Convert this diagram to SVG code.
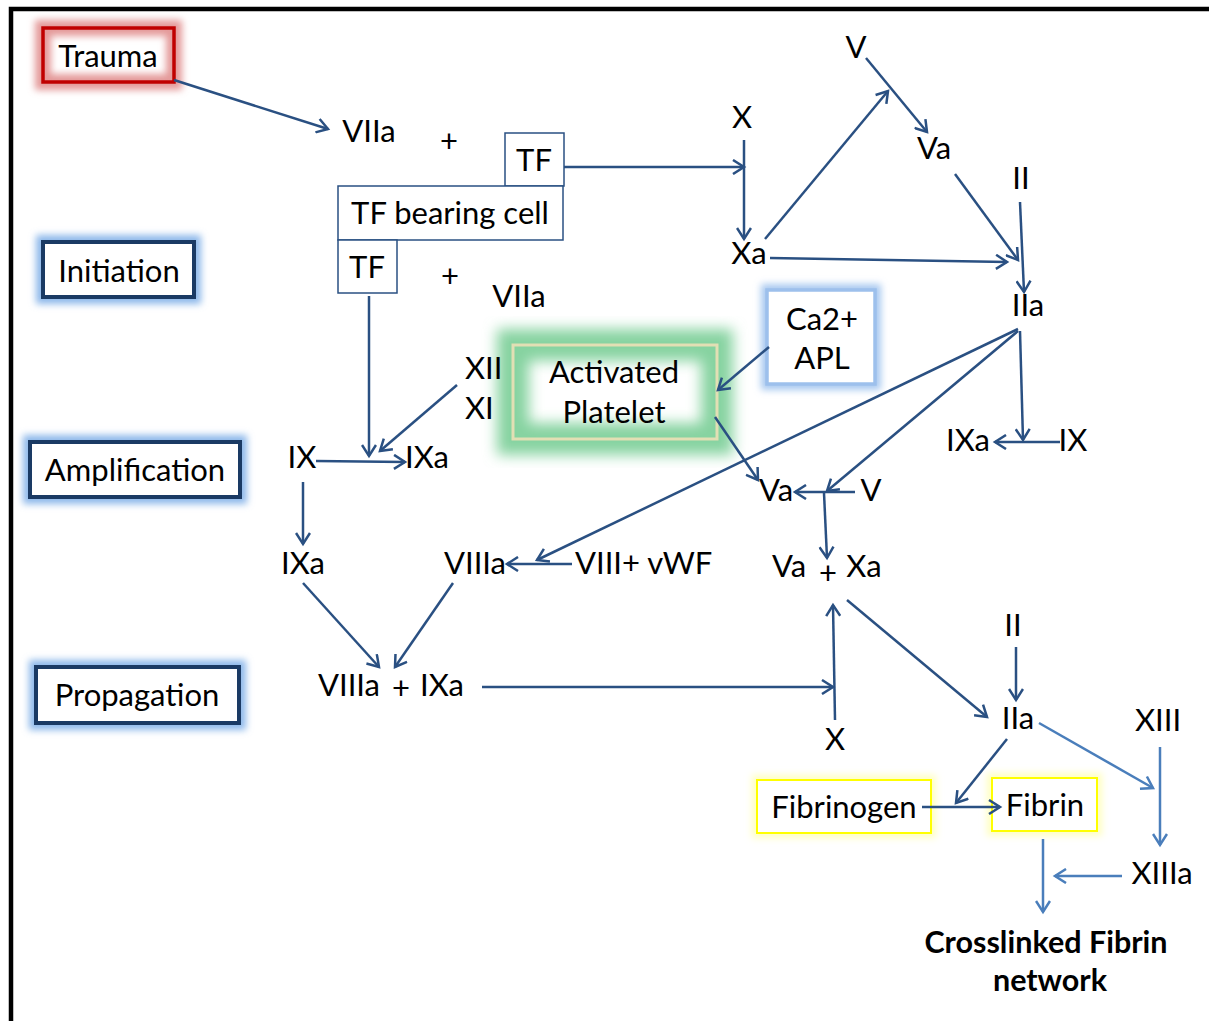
<svg xmlns="http://www.w3.org/2000/svg" width="1209" height="1021" viewBox="0 0 1209 1021">
<style>
text{font-family:Lato,"Liberation Sans",sans-serif;font-size:31px;fill:#000;text-anchor:middle}
.b{font-weight:bold;font-size:30.5px}
.s{text-anchor:start}
.dk{fill:none;stroke:#2a5082;stroke-width:2.5}
.lt{fill:none;stroke:#4a7ebb;stroke-width:2.5}
.box{fill:#fff;stroke:#2a5082;stroke-width:1.5}
.stage{fill:#fff;stroke:#1a3a64;stroke-width:4}
.glowB{fill:none;stroke:#8db8ea;stroke-width:14;filter:url(#blur)}
</style>
<defs>
<filter id="blur" x="-30%" y="-30%" width="160%" height="160%"><feGaussianBlur stdDeviation="3.5"/></filter>
<filter id="blurG" x="-30%" y="-30%" width="160%" height="160%"><feGaussianBlur stdDeviation="7"/></filter>
<marker id="ad" markerUnits="userSpaceOnUse" markerWidth="16" markerHeight="16" viewBox="0 0 16 16" refX="13" refY="8" orient="auto"><path d="M2,1 L13,8 L2,15" fill="none" stroke="#2a5082" stroke-width="2.5"/></marker>
<marker id="al" markerUnits="userSpaceOnUse" markerWidth="16" markerHeight="16" viewBox="0 0 16 16" refX="13" refY="8" orient="auto"><path d="M2,1 L13,8 L2,15" fill="none" stroke="#4a7ebb" stroke-width="2.5"/></marker>
</defs>
<rect width="1209" height="1021" fill="#fff"/>
<path d="M11,1021 V9 H1209" fill="none" stroke="#000" stroke-width="4.5"/>

<g id="trauma">
<rect x="43" y="28" width="131" height="54" fill="none" stroke="#e49a9a" stroke-width="16" filter="url(#blur)"/>
<rect x="43" y="28" width="131" height="54" fill="none" stroke="#c00000" stroke-width="3.5"/>
<text x="108" y="67">Trauma</text>
</g>
<g id="initiation">
<rect x="43" y="242" width="151" height="55" class="glowB"/>
<rect x="43" y="242" width="151" height="55" class="stage" fill="none"/>
<text x="119" y="282">Initiation</text>
</g>
<g id="amplification">
<rect x="30" y="442" width="210" height="55" class="glowB"/>
<rect x="30" y="442" width="210" height="55" class="stage" fill="none"/>
<text x="135" y="481">Amplification</text>
</g>
<g id="propagation">
<rect x="36" y="667" width="203" height="56" class="glowB"/>
<rect x="36" y="667" width="203" height="56" class="stage" fill="none"/>
<text x="137" y="706">Propagation</text>
</g>

<g id="tf-top"><rect x="505" y="133" width="59" height="53" class="box"/><text x="534" y="171">TF</text></g>
<g id="tf-cell"><rect x="338" y="186" width="225" height="54" class="box"/><text x="450" y="224">TF bearing cell</text></g>
<g id="tf-low"><rect x="338" y="240" width="59" height="53" class="box"/><text x="367" y="278">TF</text></g>

<g id="platelet">
<rect x="513" y="345" width="204" height="94" fill="none" stroke="#86d3a0" stroke-width="32" filter="url(#blurG)"/>
<rect x="513" y="345" width="204" height="94" fill="none" stroke="#e2dfb4" stroke-width="3"/>
<text x="614" y="383">Activated</text>
<text x="614" y="423">Platelet</text>
</g>
<g id="ca">
<rect x="767" y="290" width="108" height="94" fill="none" stroke="#a9c9f0" stroke-width="12" filter="url(#blur)"/>
<rect x="767" y="290" width="108" height="94" fill="#fff" stroke="#9dc0ec" stroke-width="3.5"/>
<text x="822" y="330">Ca2+</text>
<text x="822" y="369">APL</text>
</g>
<g id="fibrinogen">
<rect x="757" y="780" width="174" height="53" fill="none" stroke="#ffffc0" stroke-width="10" filter="url(#blur)"/>
<rect x="757" y="780" width="174" height="53" fill="#fff" stroke="#ffff00" stroke-width="2"/>
<text x="844" y="818">Fibrinogen</text>
</g>
<g id="fibrin">
<rect x="992" y="778" width="105" height="53" fill="none" stroke="#ffffc0" stroke-width="10" filter="url(#blur)"/>
<rect x="992" y="778" width="105" height="53" fill="#fff" stroke="#ffff00" stroke-width="2"/>
<text x="1045" y="816">Fibrin</text>
</g>

<g id="labels">
<text x="369" y="142">VIIa</text>
<text x="449" y="152">+</text>
<text x="450" y="287">+</text>
<text x="519" y="307">VIIa</text>
<text x="742" y="128">X</text>
<text x="749" y="264">Xa</text>
<text x="856" y="58">V</text>
<text x="934" y="159">Va</text>
<text x="1021" y="189">II</text>
<text x="1028" y="316">IIa</text>
<text x="465" y="379" class="s">XII</text>
<text x="465" y="419" class="s">XI</text>
<text x="302" y="468">IX</text>
<text x="427" y="468">IXa</text>
<text x="968" y="451">IXa</text>
<text x="1073" y="451">IX</text>
<text x="776" y="501">Va</text>
<text x="871" y="501">V</text>
<text x="303" y="574">IXa</text>
<text x="475" y="574">VIIIa</text>
<text x="575" y="574" class="s">VIII+ vWF</text>
<text x="789" y="577">Va</text>
<text x="828" y="584">+</text>
<text x="864" y="577">Xa</text>
<text x="349" y="696">VIIIa</text>
<text x="401" y="699">+</text>
<text x="442" y="696">IXa</text>
<text x="835" y="750">X</text>
<text x="1013" y="636">II</text>
<text x="1018" y="729">IIa</text>
<text x="1158" y="731">XIII</text>
<text x="1162" y="884">XIIIa</text>
<text x="1046" y="953" class="b">Crosslinked Fibrin</text>
<text x="1050" y="991" class="b">network</text>
</g>

<g id="connectors">
<path class="dk" d="M174,80 L328,129" marker-end="url(#ad)"/>
<path class="dk" d="M564,167 L744,167" marker-end="url(#ad)"/>
<path class="dk" d="M744,140 L744,239" marker-end="url(#ad)"/>
<path class="dk" d="M765,239 L888,91" marker-end="url(#ad)"/>
<path class="dk" d="M866,58 L927,132" marker-end="url(#ad)"/>
<path class="dk" d="M770,258 L1007,262" marker-end="url(#ad)"/>
<path class="dk" d="M955,174 L1018,260" marker-end="url(#ad)"/>
<path class="dk" d="M1020,202 L1024,292" marker-end="url(#ad)"/>
<path class="dk" d="M1018,329 L537,560" marker-end="url(#ad)"/>
<path class="dk" d="M1018,331 L827,491" marker-end="url(#ad)"/>
<path class="dk" d="M1020,331 L1023,440" marker-end="url(#ad)"/>
<path class="dk" d="M1060,442 L995,442" marker-end="url(#ad)"/>
<path class="dk" d="M855,492 L795,492" marker-end="url(#ad)"/>
<path class="dk" d="M824,493 L827,558" marker-end="url(#ad)"/>
<path class="dk" d="M715,417 L758,480" marker-end="url(#ad)"/>
<path class="dk" d="M769,347 L718,390" marker-end="url(#ad)"/>
<path class="dk" d="M457,385 L380,451" marker-end="url(#ad)"/>
<path class="dk" d="M369,296 L369,456" marker-end="url(#ad)"/>
<path class="dk" d="M316,461 L405,462" marker-end="url(#ad)"/>
<path class="dk" d="M303,482 L303,544" marker-end="url(#ad)"/>
<path class="dk" d="M572,564 L507,564" marker-end="url(#ad)"/>
<path class="dk" d="M303,583 L379,667" marker-end="url(#ad)"/>
<path class="dk" d="M453,583 L395,667" marker-end="url(#ad)"/>
<path class="dk" d="M482,687 L833,687" marker-end="url(#ad)"/>
<path class="dk" d="M835,720 L833,605" marker-end="url(#ad)"/>
<path class="dk" d="M847,600 L987,717" marker-end="url(#ad)"/>
<path class="dk" d="M1016,647 L1016,700" marker-end="url(#ad)"/>
<path class="dk" d="M1007,739 L956,803" marker-end="url(#ad)"/>
<path class="dk" d="M922,807 L1000,807" marker-end="url(#ad)"/>
<path class="lt" d="M1039,723 L1153,788" marker-end="url(#al)"/>
<path class="lt" d="M1160,747 L1160,845" marker-end="url(#al)"/>
<path class="lt" d="M1122,876 L1055,876" marker-end="url(#al)"/>
<path class="lt" d="M1043,839 L1043,912" marker-end="url(#al)"/>
</g>
</svg>
